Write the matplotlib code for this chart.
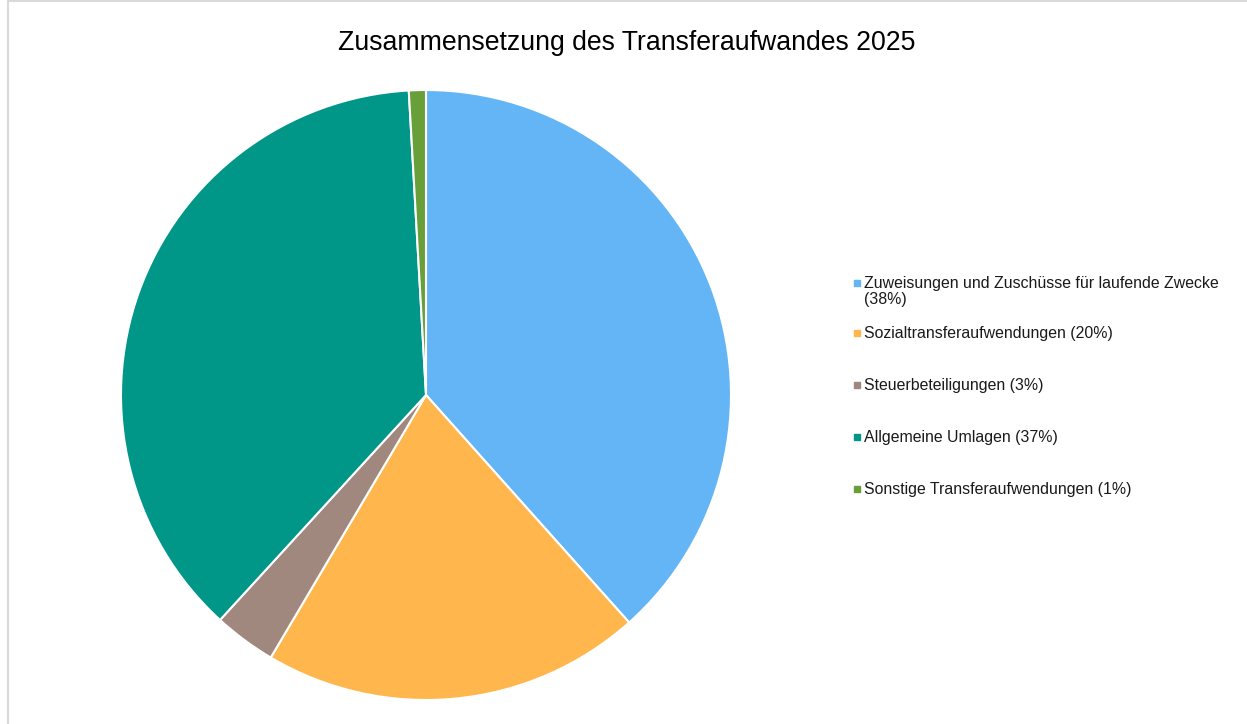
import matplotlib.pyplot as plt
from matplotlib.lines import Line2D
from matplotlib.patches import Rectangle

plt.rcParams['font.family'] = ['Liberation Sans', 'DejaVu Sans']

categories = ['Zuweisungen und Zuschüsse für laufende Zwecke\n(38%)',
              'Sozialtransferaufwendungen (20%)',
              'Steuerbeteiligungen (3%)',
              'Allgemeine Umlagen (37%)',
              'Sonstige Transferaufwendungen (1%)']
shares = [38.4, 20.1, 3.3, 37.3, 0.9]
colors = ['#64B5F6', '#FFB74D', '#A1887F', '#009688', '#689F38']

W, H = 1247, 724
fig = plt.figure(figsize=(W / 100, H / 100), dpi=100)

# chart border (left + top visible)
fig.add_artist(Line2D([8 / W, 8 / W], [0, 1 - 1 / H], color='#D9D9D9', lw=1.5))
fig.add_artist(Line2D([8 / W, 1], [1 - 1 / H, 1 - 1 / H], color='#D9D9D9', lw=1.5))

cx, cy, r = 426, 395, 305
ax = fig.add_axes([(cx - r) / W, 1 - (cy + r) / H, 2 * r / W, 2 * r / H])
ax.pie(shares, colors=colors, startangle=90, counterclock=False,
       wedgeprops=dict(edgecolor='white', linewidth=1.5))
ax.set_xlim(-1, 1)
ax.set_ylim(-1, 1)
ax.set_aspect('equal')
ax.axis('off')

fig.text(627 / W, 1 - 43 / H, 'Zusammensetzung des Transferaufwandes 2025',
         ha='center', va='center', fontsize=19.2)

# legend
ys = [283, 333, 385, 437, 489]
for lab, col, y in zip(categories, colors, ys):
    fig.add_artist(Rectangle((854 / W, 1 - (y + 3) / H), 6 / W, 6 / H,
                             color=col, transform=fig.transFigure))
    fig.text(864 / W, 1 - (y - 7) / H, lab, ha='left', va='top',
             fontsize=11.4, linespacing=1.12, color='#1a1a1a')

fig.savefig('out.png', dpi=100)
